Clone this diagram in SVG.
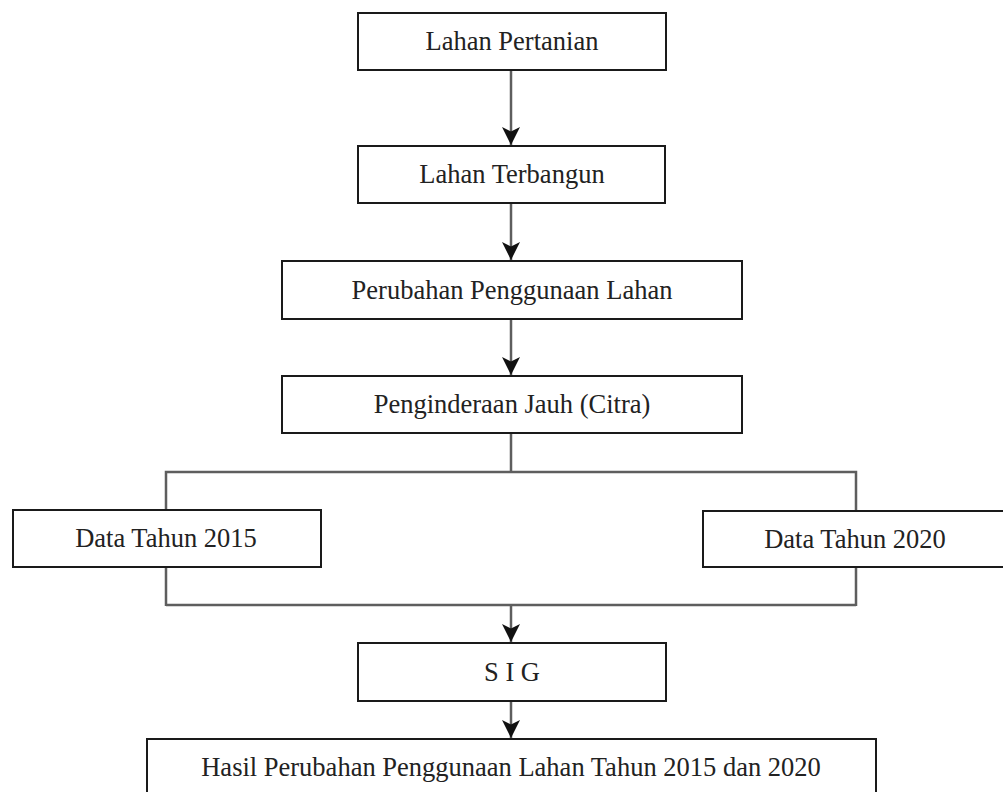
<svg xmlns="http://www.w3.org/2000/svg" width="1003" height="792" viewBox="0 0 1003 792">
<style>
.box{fill:#fff;stroke:#1a1a1a;stroke-width:2}
.lbl{font-family:"Liberation Serif","Times New Roman",serif;font-size:26.5px;fill:#222;text-anchor:middle}
.con{fill:none;stroke:#5e5e5e;stroke-width:2.5}
</style>
<defs>
<marker id="arr" markerUnits="userSpaceOnUse" markerWidth="18" markerHeight="18" viewBox="0 0 16 16" refX="16" refY="8" orient="auto">
<path d="M0,0 L16,8 L0,16 L4,8 Z" fill="#111"/>
</marker>
</defs>
<rect width="1003" height="792" fill="#fff"/>
<g id="connectors">
<line class="con" x1="511" y1="71" x2="511" y2="145" marker-end="url(#arr)"/>
<line class="con" x1="511" y1="204" x2="511" y2="260" marker-end="url(#arr)"/>
<line class="con" x1="511" y1="320" x2="511" y2="375" marker-end="url(#arr)"/>
<path class="con" d="M511,434 V472 M166,606 V472 H856 V606 M166,605 H856"/>
<line class="con" x1="511" y1="605" x2="511" y2="642" marker-end="url(#arr)"/>
<line class="con" x1="511" y1="702" x2="511" y2="738" marker-end="url(#arr)"/>
</g>
<g id="n1"><rect class="box" x="358" y="13" width="308" height="57"/><text class="lbl" x="512" y="50">Lahan Pertanian</text></g>
<g id="n2"><rect class="box" x="358" y="146" width="307" height="57"/><text class="lbl" x="512" y="183">Lahan Terbangun</text></g>
<g id="n3"><rect class="box" x="282" y="261" width="460" height="58"/><text class="lbl" x="512" y="299">Perubahan Penggunaan Lahan</text></g>
<g id="n4"><rect class="box" x="282" y="376" width="460" height="57"/><text class="lbl" x="512" y="413">Penginderaan Jauh (Citra)</text></g>
<g id="n5"><rect class="box" x="13" y="510" width="308" height="57"/><text class="lbl" x="166" y="547">Data Tahun 2015</text></g>
<g id="n6"><rect class="box" x="703" y="511" width="304" height="56"/><text class="lbl" x="855" y="548">Data Tahun 2020</text></g>
<g id="n7"><rect class="box" x="358" y="643" width="308" height="58"/><text class="lbl" x="512" y="681">S I G</text></g>
<g id="n8"><rect class="box" x="147" y="739" width="729" height="58"/><text class="lbl" x="511" y="776">Hasil Perubahan Penggunaan Lahan Tahun 2015 dan 2020</text></g>
</svg>
